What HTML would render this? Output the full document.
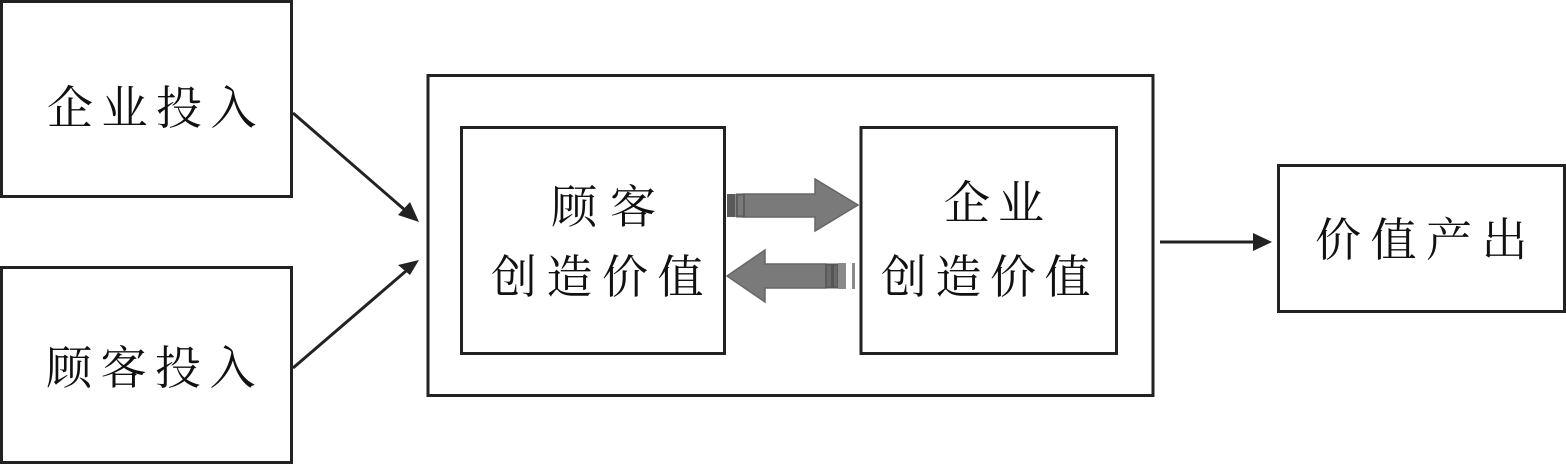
<!DOCTYPE html>
<html>
<head>
<meta charset="utf-8">
<style>
html,body{margin:0;padding:0;background:#fff;}
svg{display:block;}
text{font-family:"Liberation Serif","Noto Serif CJK SC","Noto Sans CJK SC",serif;font-size:46px;fill:#111;}
</style>
</head>
<body>
<svg width="1566" height="464" viewBox="0 0 1566 464" xmlns="http://www.w3.org/2000/svg">
  <g fill="none" stroke="#222" stroke-width="3">
    <rect x="1.5" y="1.5" width="290" height="195"/>
    <rect x="1.5" y="267.5" width="290" height="195"/>
    <rect x="428" y="75.5" width="725" height="320"/>
    <rect x="461.5" y="127.5" width="263" height="226"/>
    <rect x="861" y="127.5" width="255.5" height="226"/>
    <rect x="1278.5" y="165.5" width="286" height="146"/>
  </g>

  <!-- connector lines -->
  <g stroke="#222" stroke-width="3" fill="none">
    <line x1="293" y1="113" x2="406" y2="211"/>
    <line x1="293" y1="368" x2="406" y2="271"/>
    <line x1="1160" y1="242" x2="1256" y2="242"/>
  </g>
  <g fill="#222">
    <polygon points="419,222 398,215 410,202"/>
    <polygon points="419,260 410,275 398,265"/>
    <polygon points="1272,242 1253,233 1253,251"/>
  </g>

  <!-- fat right arrow -->
  <g>
    <polygon points="743,194 815,194 815,179 858,205 815,231 815,217 743,217" fill="#7a7a7a" stroke="#666" stroke-width="1.5"/>
    <rect x="727" y="194" width="8" height="23" fill="#5a5a5a"/>
    <rect x="735" y="194" width="2" height="23" fill="#8a8a8a"/>
    <rect x="737" y="194.5" width="7" height="22" fill="#7a7a7a" stroke="#5e5e5e" stroke-width="2"/>
  </g>

  <!-- fat left arrow -->
  <g>
    <polygon points="727,276 765,250 765,264 826,264 826,288 765,288 765,302" fill="#7a7a7a" stroke="#666" stroke-width="1.5"/>
    <rect x="826" y="264.5" width="12" height="23" fill="#6a6a6a" stroke="#5a5a5a" stroke-width="2"/>
    <rect x="831" y="264" width="3" height="24" fill="#555"/>
    <rect x="838" y="263" width="8" height="26" fill="#8a8a8a"/>
    <rect x="852" y="263" width="3" height="26" fill="#8a8a8a"/>
  </g>

  <!-- labels -->
  <text x="47" y="124" letter-spacing="8.5">企业投入</text>
  <text x="46" y="384" letter-spacing="8.5">顾客投入</text>

  <text x="551" y="223" letter-spacing="13">顾客</text>
  <text x="491" y="293" letter-spacing="9.5">创造价值</text>

  <text x="944" y="219" letter-spacing="8">企业</text>
  <text x="881" y="293" letter-spacing="8.5">创造价值</text>

  <text x="1315" y="256" letter-spacing="9.5">价值产出</text>
</svg>
</body>
</html>
